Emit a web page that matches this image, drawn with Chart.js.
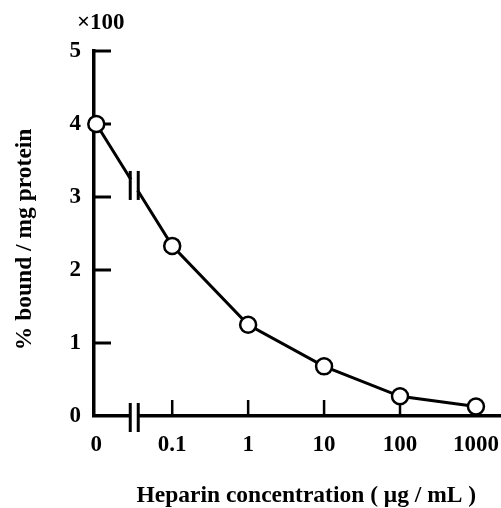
<!DOCTYPE html>
<html>
<head>
<meta charset="utf-8">
<script src="https://cdn.jsdelivr.net/npm/chart.js@4/dist/chart.umd.min.js"></script>
<style>
  html, body { margin: 0; padding: 0; background: #fff; }
  #wrap { width: 501px; height: 508px; }
</style>
</head>
<body>
<div id="wrap"><canvas id="heparinChart" width="501" height="508"></canvas></div>
<script>
// Heparin concentrations (ug/mL), placed on an evenly spaced axis with a break after 0
const concLabels = ['0', '0.1', '1', '10', '100', '1000'];
const concPositions = [0, 1, 2, 3, 4, 5];
// % bound / mg protein (x100)
const boundPerMg = [4.0, 2.33, 1.25, 0.68, 0.27, 0.13];
const yTickValues = [0, 1, 2, 3, 4, 5];
// where the axis break sits, between "0" and "0.1"
const breakAt = 0.5;

const serif = '"Liberation Serif", "Times New Roman", serif';

/* Draws the inward ticks (under the markers), the axis break marks and the x100 note
*/
const paperAxesPlugin = {
    id: 'paperAxes',
    beforeDatasetsDraw(chart) {
        const ctx = chart.ctx;
        const x = chart.scales.x;
        const y = chart.scales.y;
        const left = chart.chartArea.left;
        const bottom = y.getPixelForValue(0);

        ctx.save();
        ctx.strokeStyle = '#000';
        ctx.lineCap = 'butt';

        // y ticks point into the plot
        ctx.lineWidth = 3;
        yTickValues.filter(v => v > 0).forEach(v => {
            const py = y.getPixelForValue(v);
            ctx.beginPath();
            ctx.moveTo(left, py);
            ctx.lineTo(left + 17, py);
            ctx.stroke();
        });

        // x ticks point up
        ctx.lineWidth = 2.5;
        concPositions.filter(v => v > 0).forEach(v => {
            const px = x.getPixelForValue(v);
            ctx.beginPath();
            ctx.moveTo(px, bottom);
            ctx.lineTo(px, bottom - 16);
            ctx.stroke();
        });
        ctx.restore();
    },
    afterDraw(chart) {
        const ctx = chart.ctx;
        const x = chart.scales.x;
        const y = chart.scales.y;
        const left = chart.chartArea.left;
        const bottom = y.getPixelForValue(0);

        ctx.save();
        ctx.strokeStyle = '#000';

        // break marks: one on the x axis, one on the curve
        const bx = x.getPixelForValue(breakAt);
        const lineY = y.getPixelForValue(
            boundPerMg[0] + (boundPerMg[1] - boundPerMg[0]) * (breakAt - concPositions[0]) / (concPositions[1] - concPositions[0])
        );
        const drawBreak = (cy) => {
            ctx.fillStyle = '#fff';
            ctx.fillRect(bx - 4, cy - 6, 8, 12);
            ctx.lineWidth = 3;
            [bx - 4, bx + 4].forEach(lx => {
                ctx.beginPath();
                ctx.moveTo(lx, cy - 14);
                ctx.lineTo(lx, cy + 15);
                ctx.stroke();
            });
        };
        drawBreak(bottom + 1);
        drawBreak(lineY);

        // scale factor note above the y axis
        ctx.fillStyle = '#000';
        ctx.font = 'bold 23px ' + serif;
        ctx.textAlign = 'left';
        ctx.textBaseline = 'middle';
        ctx.fillText('\u00d7100', left - 17, 23);
        ctx.restore();
    }
};

const buildChart = () => {
    const data = {
        datasets: [{
            label: '% bound / mg protein',
            data: concPositions.map((p, i) => ({ x: p, y: boundPerMg[i] })),
            showLine: true,
            borderColor: '#000',
            borderWidth: 3,
            pointRadius: 8,
            pointBorderWidth: 2.5,
            pointBackgroundColor: '#fff',
            pointBorderColor: '#000',
            clip: false
        }]
    };

    const config = {
        type: 'scatter',
        data: data,
        options: {
            responsive: false,
            animation: false,
            events: [],
            layout: { autoPadding: false, padding: { top: 51, right: 0, bottom: 0, left: 0 } },
            plugins: {
                legend: { display: false },
                tooltip: { enabled: false }
            },
            scales: {
                x: {
                    type: 'linear',
                    min: -0.03,
                    max: 5.33,
                    afterFit: s => {
                        s.height = 92;
                        s.paddingLeft = 0;
                        s.paddingRight = 0;
                    },
                    afterBuildTicks: s => { s.ticks = concPositions.map(v => ({ value: v })); },
                    grid: { display: false, drawTicks: false },
                    border: { display: true, color: '#000', width: 3.5 },
                    ticks: {
                        autoSkip: false,
                        maxRotation: 0,
                        padding: 15,
                        color: '#000',
                        font: { family: serif, size: 23, weight: 'bold' },
                        callback: v => concLabels[concPositions.indexOf(v)]
                    },
                    title: {
                        display: true,
                        text: '   Heparin concentration ( \u03bcg / mL )',
                        color: '#000',
                        padding: { top: 0, bottom: 0 },
                        font: { family: serif, size: 23.5, weight: 'bold', lineHeight: 1 }
                    }
                },
                y: {
                    min: 0,
                    max: 5,
                    afterFit: s => {
                        s.width = 94;
                        s.paddingTop = 0;
                        s.paddingBottom = 0;
                    },
                    afterBuildTicks: s => { s.ticks = yTickValues.map(v => ({ value: v })); },
                    grid: { display: false, drawTicks: false },
                    border: { display: true, color: '#000', width: 3.5 },
                    ticks: {
                        padding: 13,
                        color: '#000',
                        font: { family: serif, size: 23, weight: 'bold' }
                    },
                    title: {
                        display: true,
                        text: '% bound / mg protein  ',
                        color: '#000',
                        padding: { top: 13, bottom: 0 },
                        font: { family: serif, size: 23.5, weight: 'bold', lineHeight: 1 }
                    }
                }
            }
        },
        plugins: [paperAxesPlugin]
    };

    const ctx = document.getElementById('heparinChart').getContext('2d');
    new Chart(ctx, config);
};

document.addEventListener('DOMContentLoaded', () => {
    buildChart();
});
</script>
</body>
</html>
